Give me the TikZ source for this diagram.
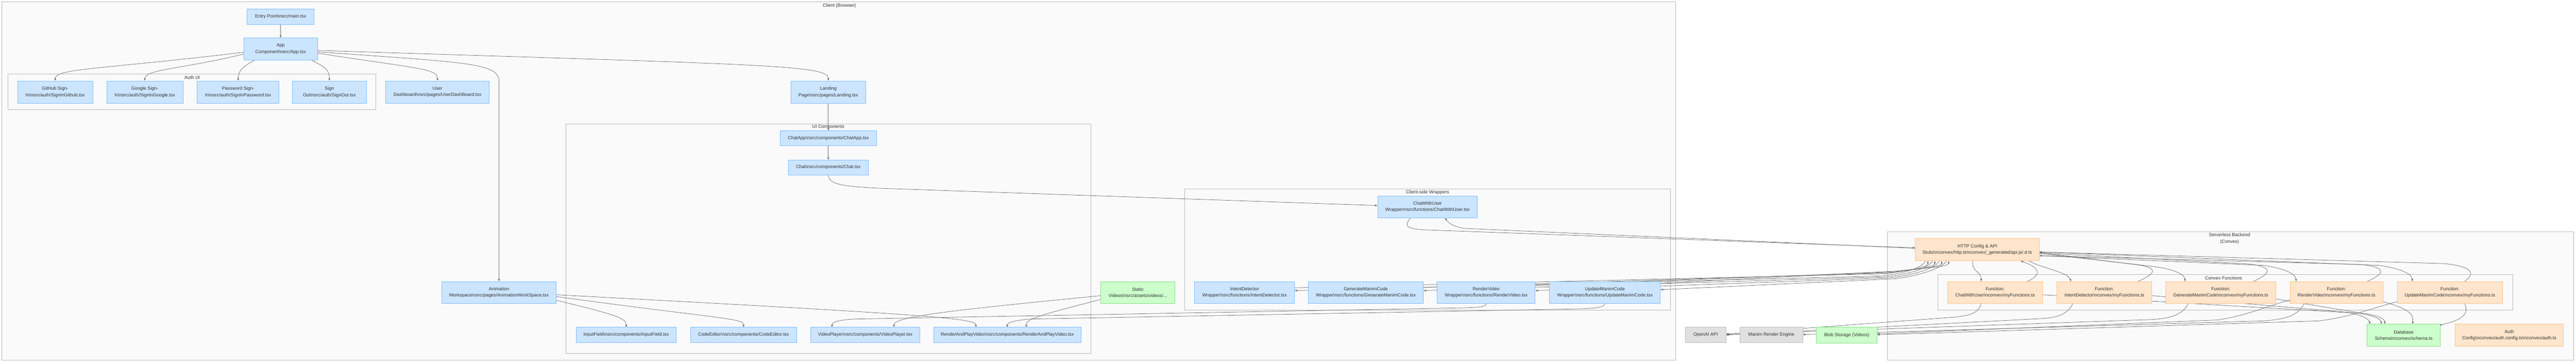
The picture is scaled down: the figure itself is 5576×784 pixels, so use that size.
\documentclass[tikz,border=0pt]{standalone}
\usepackage{fontspec}
\setmainfont{Liberation Sans}
\usetikzlibrary{arrows.meta,calc}
\definecolor{bfill}{HTML}{CCE5FF}
\definecolor{bline}{HTML}{80BDFF}
\definecolor{ofill}{HTML}{FFE5CC}
\definecolor{oline}{HTML}{FFC285}
\definecolor{gfill}{HTML}{CCFFCC}
\definecolor{gline}{HTML}{85E085}
\definecolor{xfill}{HTML}{E0E0E0}
\definecolor{xline}{HTML}{BDBDBD}
\definecolor{cfill}{HTML}{FAFAFA}
\definecolor{cline}{HTML}{B8B8B8}
\definecolor{eline}{HTML}{727272}
\definecolor{txt}{HTML}{333333}
\newcommand\bsn{\textbackslash n}
\pgfdeclarelayer{clusterlayer}
\pgfdeclarelayer{edgelayer}
\pgfsetlayers{clusterlayer,edgelayer,main}
\tikzset{
  box/.style={rectangle, inner sep=0pt, align=center, text=txt, font=\fontsize{10}{14}\selectfont, line width=0.9pt},
  bluebox/.style={box, fill=bfill, draw=bline},
  orangebox/.style={box, fill=ofill, draw=oline},
  greenbox/.style={box, fill=gfill, draw=gline},
  graybox/.style={box, fill=xfill, draw=xline},
  cluster/.style={fill=cfill, draw=cline, line width=1.1pt},
  clabel/.style={text=txt, font=\fontsize{10}{14}\selectfont, inner sep=0pt, align=center},
  edge/.style={draw=eline, line width=0.85pt, -{Triangle[length=5pt,width=4pt]}},
}
\begin{document}
\begin{tikzpicture}[x=1pt,y=-1pt]
\begin{pgfonlayer}{clusterlayer}
\fill[white] (0,0) rectangle (5576,784);
\draw[cluster] (4,4) rectangle (3627,779);
\draw[cluster] (17,160) rectangle (814,237);
\draw[cluster] (1225,268) rectangle (2361,764);
\draw[cluster] (2564,409) rectangle (3616,671);
\draw[cluster] (4086,501) rectangle (5571,779);
\draw[cluster] (4195,594) rectangle (5439,671);
\node[clabel] (lclient) at (1817,12) {Client (Browser)};
\node[clabel] (lauth) at (416,168) {Auth UI};
\node[clabel] (lui) at (1793,275) {UI Components};
\node[clabel] (lwrap) at (3090,416) {Client-side Wrappers};
\node[clabel] (lback) at (4826,516) {Serverless Backend\\(Convex)};
\node[clabel] (lfun) at (4813,601) {Convex Functions};
\end{pgfonlayer}
\useasboundingbox (0,0) rectangle (5576,784);

\path
 node[bluebox, minimum width=145pt, minimum height=34pt] (entry) at (607.5,36) {Entry Point\bsn src/main.tsx}
 node[bluebox, minimum width=159pt, minimum height=48pt] (app) at (607.5,106) {App\\Component\bsn src/App.tsx}
 node[bluebox, minimum width=163pt, minimum height=48pt] (gh) at (119.5,199) {GitHub Sign-\\In\bsn src/auth/SignInGithub.tsx}
 node[bluebox, minimum width=165pt, minimum height=48pt] (gg) at (313.5,199) {Google Sign-\\In\bsn src/auth/SignInGoogle.tsx}
 node[bluebox, minimum width=177pt, minimum height=48pt] (pw) at (515.5,199) {Password Sign-\\In\bsn src/auth/SignInPassword.tsx}
 node[bluebox, minimum width=160pt, minimum height=48pt] (so) at (713,199) {Sign\\Out\bsn src/auth/SignOut.tsx}
 node[bluebox, minimum width=224pt, minimum height=48pt] (ud) at (947,199) {User\\Dashboard\bsn src/pages/UserDashBoard.tsx}
 node[bluebox, minimum width=162pt, minimum height=48pt] (land) at (1793,199) {Landing\\Page\bsn src/pages/Landing.tsx}
 node[bluebox, minimum width=248pt, minimum height=47pt] (anim) at (1080,632.5) {Animation\\Workspace\bsn src/pages/AnimationWorkSpace.tsx}
 node[bluebox, minimum width=208pt, minimum height=32pt] (chatapp) at (1793,299) {ChatApp\bsn src/components/ChatApp.tsx}
 node[bluebox, minimum width=173pt, minimum height=32pt] (chat) at (1793,362) {Chat\bsn src/components/Chat.tsx}
 node[bluebox, minimum width=217pt, minimum height=33pt] (input) at (1355.5,724.5) {InputField\bsn src/components/InputField.tsx}
 node[bluebox, minimum width=229pt, minimum height=33pt] (code) at (1609.5,724.5) {CodeEditor\bsn src/components/CodeEditor.tsx}
 node[bluebox, minimum width=236pt, minimum height=33pt] (video) at (1873,724.5) {VideoPlayer\bsn src/components/VideoPlayer.tsx}
 node[bluebox, minimum width=319pt, minimum height=33pt] (rap) at (2180.5,724.5) {RenderAndPlayVideo\bsn src/components/RenderAndPlayVideo.tsx}
 node[greenbox, minimum width=160pt, minimum height=47pt] (static) at (2463,632.5) {Static\\Videos\bsn src/assets/videos/...}
 node[bluebox, minimum width=216pt, minimum height=47pt] (wchat) at (3090,447.5) {ChatWithUser\\Wrapper\bsn src/functions/ChatWithUser.tsx}
 node[bluebox, minimum width=216pt, minimum height=47pt] (wint) at (2694,632.5) {IntentDetector\\Wrapper\bsn src/functions/IntentDetector.tsx}
 node[bluebox, minimum width=249pt, minimum height=47pt] (wgen) at (2956.5,632.5) {GenerateManimCode\\Wrapper\bsn src/functions/GenarateManimCode.tsx}
 node[bluebox, minimum width=212pt, minimum height=47pt] (wren) at (3217,632.5) {RenderVideo\\Wrapper\bsn src/functions/RenderVideo.tsx}
 node[bluebox, minimum width=240pt, minimum height=47pt] (wupd) at (3474,632.5) {UpdateManimCode\\Wrapper\bsn src/functions/UpdateManimCode.tsx}
 node[graybox, minimum width=88pt, minimum height=33pt] (openai) at (3692,724.5) {OpenAI API}
 node[graybox, minimum width=136pt, minimum height=33pt] (manim) at (3834,724.5) {Manim Render Engine}
 node[greenbox, minimum width=131pt, minimum height=34pt] (blob) at (3997.5,725) {Blob Storage (Videos)}
 node[orangebox, minimum width=268pt, minimum height=48pt] (http) at (4280,540) {HTTP Config \& API\\Stubs\bsn convex/http.ts\bsn convex/\_generated/api.js/.d.ts}
 node[orangebox, minimum width=205pt, minimum height=47pt] (fchat) at (4318.5,632.5) {Function:\\ChatWithUser\bsn convex/myFunctions.ts}
 node[orangebox, minimum width=206pt, minimum height=47pt] (fint) at (4555,632.5) {Function:\\IntentDetector\bsn convex/myFunctions.ts}
 node[orangebox, minimum width=238pt, minimum height=47pt] (fgen) at (4807,632.5) {Function:\\GenerateManimCode\bsn convex/myFunctions.ts}
 node[orangebox, minimum width=201pt, minimum height=47pt] (fren) at (5057.5,632.5) {Function:\\RenderVideo\bsn convex/myFunctions.ts}
 node[orangebox, minimum width=228pt, minimum height=47pt] (fupd) at (5303,632.5) {Function:\\UpdateManimCode\bsn convex/myFunctions.ts}
 node[greenbox, minimum width=158pt, minimum height=48pt] (db) at (5203,725) {Database\\Schema\bsn convex/schema.ts}
 node[orangebox, minimum width=235pt, minimum height=48pt] (auth) at (5431.5,725) {Auth\\Config\bsn convex/auth.config.ts\bsn convex/auth.ts};

\begin{pgfonlayer}{edgelayer}
\draw[edge] (entry.south) -- (app.north);
\draw[edge] ($(app.west)+(0,7)$) .. controls (220,150) and (120,148) .. (gh.north);
\draw[edge] ($(app.west)+(0,11)$) .. controls (390,150) and (314,150) .. (gg.north);
\draw[edge] ($(app.south)+(-57,0)$) .. controls (525,145) and (516,152) .. (pw.north);
\draw[edge] ($(app.south)+(67,0)$) .. controls (705,145) and (713,152) .. (so.north);
\draw[edge] ($(app.east)+(0,9)$) .. controls (900,148) and (947,148) .. (ud.north);
\draw[edge] ($(app.east)+(0,3)$) .. controls (1650,140) and (1793,140) .. (land.north);
\draw[edge] ($(app.east)+(0,6)$) .. controls (1000,135) and (1080,135) .. (1080,175) -- (anim.north);
\draw[edge] (land.south) -- (chatapp.north);
\draw[edge] (chatapp.south) -- (chat.north);
\draw[edge] (chat.south) .. controls (1793,400) and (1830,403) .. (1900,407) -- ($(wchat.west)+(0,-3)$);
\draw[edge] ($(anim.east)+(0,17)$) .. controls (1330,680) and (1356,688) .. (input.north);
\draw[edge] ($(anim.east)+(0,9)$) .. controls (1560,690) and (1610,688) .. (code.north);
\draw[edge] ($(anim.east)+(0,5)$) .. controls (2000,680) and (2112,688) .. ($(rap.north)+(-68,0)$);
\draw[edge] ($(static.west)+(0,7)$) .. controls (2050,672) and (1935,685) .. ($(video.north)+(62,0)$);
\draw[edge] ($(static.west)+(0,15)$) .. controls (2260,680) and (2221,688) .. ($(rap.north)+(41,0)$);
\draw[edge] (wren.south) .. controls (3217,664) and (3200,665) .. (3160,666) -- (1850,690) .. controls (1805,693) and (1801,698) .. ($(video.north)+(-72,0)$);
\draw[edge] (wupd.south) .. controls (3474,664) and (3455,667) .. (3420,668) -- (2230,690) .. controls (2185,694) and (2180,700) .. (rap.north);
% wrapper <-> http
\draw[edge] ($(wchat.south)+(-37,0)$) .. controls (3040,488) and (3042,494) .. (3080,497) -- ($(http.west)+(0,-4)$);
\draw[edge] ($(http.west)+(0,-3)$) -- (3170,494) .. controls (3145,490) and (3135,482) .. ($(wchat.south)+(38,0)$);
\draw[edge] ($(wint.east)+(0,-10)$) -- (4080,592) .. controls (4140,584) and (4173,578) .. ($(http.south)+(-107,0)$);
\draw[edge] ($(wgen.east)+(0,-11)$) -- (4090,590) .. controls (4150,582) and (4188,578) .. ($(http.south)+(-92,0)$);
\draw[edge] ($(wren.east)+(0,-15)$) -- (4100,588) .. controls (4160,580) and (4203,578) .. ($(http.south)+(-77,0)$);
\draw[edge] ($(wupd.east)+(0,-20)$) -- (4110,586) .. controls (4170,578) and (4218,578) .. ($(http.south)+(-62,0)$);
\draw[edge] ($(http.south)+(-112,0)$) .. controls (4160,580) and (4120,592) .. (4070,597) -- ($(wint.east)+(0,-4)$);
\draw[edge] ($(http.south)+(-97,0)$) .. controls (4175,580) and (4130,594) .. (4080,599) -- ($(wgen.east)+(0,-4)$);
\draw[edge] ($(http.south)+(-82,0)$) .. controls (4190,580) and (4140,596) .. (4090,601) -- ($(wren.east)+(0,-4)$);
\draw[edge] ($(http.south)+(-67,0)$) .. controls (4205,580) and (4150,598) .. (4100,603) -- ($(wupd.east)+(0,-6)$);
% http <-> functions
\draw[edge] ($(http.south)+(-10,0)$) .. controls (4268,590) and (4288,585) .. ($(fchat.north)+(-30,0)$);
\draw[edge] ($(fchat.north)+(70,0)$) .. controls (4425,592) and (4410,577) .. ($(http.south)+(94,0)$);
\draw[edge] ($(http.south)+(112,0)$) .. controls (4420,580) and (4475,588) .. ($(fint.north)+(-72,0)$);
\draw[edge] ($(fint.north)+(73,0)$) .. controls (4670,590) and (4672,578) .. (4620,572) -- ($(http.east)+(0,6)$);
\draw[edge] ($(http.east)+(0,8)$) -- (4650,575) .. controls (4695,580) and (4728,590) .. ($(fgen.north)+(-77,0)$);
\draw[edge] ($(fgen.north)+(71,0)$) .. controls (4918,590) and (4920,578) .. (4870,571) -- ($(http.east)+(0,7)$);
\draw[edge] ($(http.east)+(0,13)$) -- (4900,574) .. controls (4940,580) and (4968,590) .. ($(fren.north)+(-87,0)$);
\draw[edge] ($(fren.north)+(67,0)$) .. controls (5165,590) and (5165,578) .. (5110,572) -- ($(http.east)+(0,13)$);
\draw[edge] ($(http.east)+(0,5)$) -- (5150,574) .. controls (5190,580) and (5220,590) .. ($(fupd.north)+(-81,0)$);
\draw[edge] ($(fupd.north)+(32,0)$) .. controls (5360,590) and (5350,576) .. (5290,570) -- ($(http.east)+(0,5)$);
% functions -> database
\draw[edge] ($(fchat.east)+(0,5)$) -- (5080,676) .. controls (5110,680) and (5128,690) .. ($(db.north)+(-73,0)$);
\draw[edge] ($(fint.east)+(0,7)$) -- (5100,677) .. controls (5140,682) and (5153,690) .. ($(db.north)+(-48,0)$);
\draw[edge] ($(fgen.east)+(0,14)$) -- (5110,677) .. controls (5150,682) and (5162,690) .. ($(db.north)+(-41,0)$);
\draw[edge] ($(fren.east)+(0,20)$) .. controls (5215,668) and (5225,680) .. ($(db.north)+(19,0)$);
\draw[edge] ($(fupd.south)+(32,0)$) .. controls (5345,680) and (5330,692) .. ($(db.north east)+(-3,3)$);
% functions -> external services
\draw[edge] ($(fchat.south)+(-30,0)$) .. controls (4283,675) and (4270,682) .. (4230,686) -- ($(openai.east)+(0,-2)$);
\draw[edge] ($(fint.south)+(-68,0)$) .. controls (4475,678) and (4460,686) .. (4420,689) -- (openai.east);
\draw[edge] ($(fgen.south)+(-70,0)$) .. controls (4725,678) and (4705,688) .. (4660,691) -- ($(openai.east)+(0,-1)$);
\draw[edge] ($(fren.south)+(-70,0)$) .. controls (4975,680) and (4955,690) .. (4900,694) -- ($(manim.east)+(0,-1)$);
\draw[edge] ($(fren.west)+(0,16)$) .. controls (4900,665) and (4860,683) .. (4800,692) -- ($(blob.east)+(0,-3)$);
\draw[edge] ($(fupd.west)+(0,20)$) .. controls (5130,668) and (5090,685) .. (5020,694) -- ($(blob.east)+(0,-1)$);
\end{pgfonlayer}
\end{tikzpicture}
\end{document}
